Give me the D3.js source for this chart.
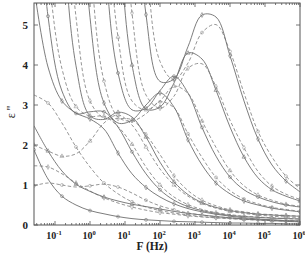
<!DOCTYPE html>
<html><head><meta charset="utf-8">
<script src="https://cdn.jsdelivr.net/npm/d3@7"></script>
<style>body{margin:0;background:#fff}svg{display:block}</style>
</head><body>
<svg id="c" width="305" height="253"></svg>
<script>
// frequencies (Hz), log grid
const freqs=[0.0251,0.0631,0.158,0.398,1,2.51,6.31,15.85,39.8,100,251,631,1585,3981,10000,25119,63096,158489,398107,1000000];
// solid curves (measured eps'')
const solidTm1=[1.88,1.15,0.72,0.50,0.36,0.28,0.21,0.16,0.13,0.11,0.09,0.08,0.07,0.06,0.05,0.05,0.04,0.04,0.03,0.03];
const solidT0=[2.48,1.85,1.35,1.02,0.84,0.70,0.60,0.52,0.46,0.40,0.34,0.29,0.25,0.21,0.18,0.15,0.13,0.11,0.09,0.08];
const solidT1=[5.95,3.95,3.10,2.80,2.65,2.40,1.80,1.28,0.94,0.70,0.53,0.41,0.33,0.27,0.22,0.18,0.15,0.13,0.11,0.10];
const solidT2=[9.74,5.22,3.35,2.79,2.83,2.83,2.45,1.83,1.28,0.88,0.62,0.46,0.36,0.29,0.24,0.21,0.19,0.17,0.16,0.15];
const solidT3=[null,19.0,8.06,3.98,2.73,2.64,2.82,2.70,2.20,1.57,1.08,0.76,0.56,0.44,0.36,0.31,0.27,0.25,0.23,0.22];
const solidT4=[null,null,29.2,11.9,5.19,3.05,2.55,2.62,3.00,3.30,2.95,2.13,1.50,1.05,0.78,0.60,0.50,0.42,0.37,0.33];
const solidT5=[null,null,null,41.0,16.6,7.16,3.80,2.88,2.92,3.36,3.72,3.30,2.44,1.72,1.20,0.88,0.70,0.58,0.50,0.45];
const solidT6=[null,null,null,null,47.0,19.0,8.06,4.00,2.90,2.95,3.55,4.30,4.15,3.37,2.45,1.70,1.18,0.88,0.72,0.60];
const solidT7=[null,null,null,null,null,62.8,25.4,10.7,5.26,3.59,3.65,4.46,5.25,5.20,4.23,3.10,2.15,1.50,1.10,0.83];
// dashed curves
const dashA=[3.25,3.05,2.55,1.95,1.45,1.05,0.78,0.58,0.45,0.36,0.30,0.25,0.21,0.18,0.16,0.14,0.12,0.11,0.10,0.09];
const dashB=[2.00,1.85,1.72,1.78,2.10,2.55,2.75,2.50,1.95,1.40,1.00,0.72,0.54,0.42,0.34,0.29,0.25,0.22,0.20,0.19];
const dashC=[1.48,1.45,1.28,1.05,0.85,0.68,0.55,0.45,0.37,0.31,0.27,0.23,0.20,0.18,0.16,0.14,0.13,0.12,0.11,0.10];
const dashD=[0.98,1.05,1.00,0.95,0.98,1.02,0.95,0.80,0.62,0.48,0.38,0.30,0.25,0.21,0.18,0.16,0.14,0.12,0.11,0.10];
const dashT2=[12.5,6.50,3.91,2.96,2.72,2.72,2.46,2.02,1.45,1.00,0.70,0.51,0.39,0.31,0.26,0.22,0.20,0.18,0.16,0.15];
const dashT3=[null,25.0,10.6,5.20,3.10,2.67,2.66,2.63,2.26,1.76,1.23,0.86,0.62,0.48,0.38,0.33,0.28,0.26,0.24,0.22];
const dashT4=[null,null,38.0,15.7,6.85,3.60,2.70,2.60,2.78,3.08,2.93,2.28,1.69,1.19,0.86,0.65,0.53,0.44,0.39,0.34];
const dashT5=[null,null,null,54.0,21.9,9.45,4.70,3.10,2.88,3.10,3.47,3.29,2.60,1.94,1.36,0.98,0.75,0.62,0.52,0.47];
const dashT6=[null,null,null,null,62.0,25.0,10.6,5.30,3.25,2.92,3.22,3.92,4.03,3.46,2.62,1.93,1.34,0.97,0.77,0.64];
const dashT7=[null,null,null,null,null,83.0,33.5,14.1,6.90,4.09,3.63,4.05,4.81,5.01,4.34,3.30,2.34,1.70,1.22,0.91];

const solidList=[solidTm1,solidT0,solidT1,solidT2,solidT3,solidT4,solidT5,solidT6,solidT7];
const dashList=[dashA,dashB,dashC,dashD,dashT2,dashT3,dashT4,dashT5,dashT6,dashT7];
const xTicks=[1e-1,1e0,1e1,1e2,1e3,1e4,1e5,1e6];
const xExp=["-1","0","1","2","3","4","5","6"];
const yTicks=[0,1,2,3,4,5];

const svg=d3.select("#c");
const L=34,R=300,T=3,B=225;
const x=d3.scaleLog().domain([Math.pow(10,-1.6),1e6]).range([L,R]);
const y=d3.scaleLinear().domain([0,5.55]).range([B,T]);

svg.append("defs").append("clipPath").attr("id","clip").append("rect")
  .attr("x",L).attr("y",T).attr("width",R-L).attr("height",B-T);

const g=svg.append("g").attr("clip-path","url(#clip)");
const line=d3.line().defined(d=>d[1]!=null)
  .x(d=>x(d[0])).y(d=>y(Math.min(d[1],40))).curve(d3.curveCatmullRom.alpha(0.5));

function pts(arr){return freqs.map((f,i)=>[f,arr[i]]);}

dashList.forEach(arr=>{
  g.append("path").attr("d",line(pts(arr))).attr("fill","none")
   .attr("stroke","#8a8a8a").attr("stroke-width",0.9).attr("stroke-dasharray","3.5,2.2");
});
solidList.forEach(arr=>{
  g.append("path").attr("d",line(pts(arr))).attr("fill","none")
   .attr("stroke","#6e6e6e").attr("stroke-width",0.9);
});
// markers
const sym=[d3.symbolCircle,d3.symbolTriangle,d3.symbolDiamond];
function markers(list,offset,col){
  list.forEach((arr,k)=>{
    pts(arr).forEach((d,i)=>{
      if(d[1]==null||d[1]>6)return;
      if((i+offset+k)%2)return;
      g.append("path").attr("d",d3.symbol().type(sym[k%3]).size(7)())
       .attr("transform",`translate(${x(d[0])},${y(d[1])})`)
       .attr("fill","none").attr("stroke",col).attr("stroke-width",0.6);
    });
  });
}
markers(solidList,0,"#777");
markers(dashList,1,"#999");

// frame
svg.append("rect").attr("x",L).attr("y",T).attr("width",R-L).attr("height",B-T)
  .attr("fill","none").attr("stroke","#555").attr("stroke-width",1);

// ticks (inward, all four sides)
const minor=[];
for(let e=-2;e<6;e++)for(let m=2;m<=9;m++){const v=m*Math.pow(10,e);if(v>=x.domain()[0]&&v<=1e6)minor.push(v);}
const ax=svg.append("g").attr("stroke","#555").attr("stroke-width",0.8);
xTicks.forEach(v=>{
  ax.append("line").attr("x1",x(v)).attr("x2",x(v)).attr("y1",B).attr("y2",B-4);
  ax.append("line").attr("x1",x(v)).attr("x2",x(v)).attr("y1",T).attr("y2",T+4);
});
minor.forEach(v=>{
  ax.append("line").attr("x1",x(v)).attr("x2",x(v)).attr("y1",B).attr("y2",B-2);
  ax.append("line").attr("x1",x(v)).attr("x2",x(v)).attr("y1",T).attr("y2",T+2);
});
yTicks.forEach(v=>{
  ax.append("line").attr("x1",L).attr("x2",L+4).attr("y1",y(v)).attr("y2",y(v));
  ax.append("line").attr("x1",R).attr("x2",R-4).attr("y1",y(v)).attr("y2",y(v));
});

const font="'Liberation Serif','DejaVu Serif',serif";
xTicks.forEach((v,i)=>{
  const t=svg.append("text").attr("x",x(v)-1).attr("y",239).attr("text-anchor","middle")
    .attr("font-family",font).attr("font-weight","bold").attr("font-size",10).attr("fill","#222");
  t.append("tspan").text("10");
  t.append("tspan").attr("dy",-4.5).attr("font-size",6.5).text(xExp[i]);
});
yTicks.forEach(v=>{
  svg.append("text").attr("x",28).attr("y",y(v)+4).attr("text-anchor","end")
    .attr("font-family",font).attr("font-weight","bold").attr("font-size",11).attr("fill","#222").text(v);
});
svg.append("text").attr("x",152).attr("y",250).attr("text-anchor","middle")
  .attr("font-family",font).attr("font-weight","bold").attr("font-size",11.5).attr("fill","#222").text("F (Hz)");
svg.append("text").attr("transform","translate(15,112) rotate(-90)").attr("text-anchor","middle")
  .attr("font-family",font).attr("font-size",12).attr("fill","#222").text("ε ''");
</script>
</body></html>
